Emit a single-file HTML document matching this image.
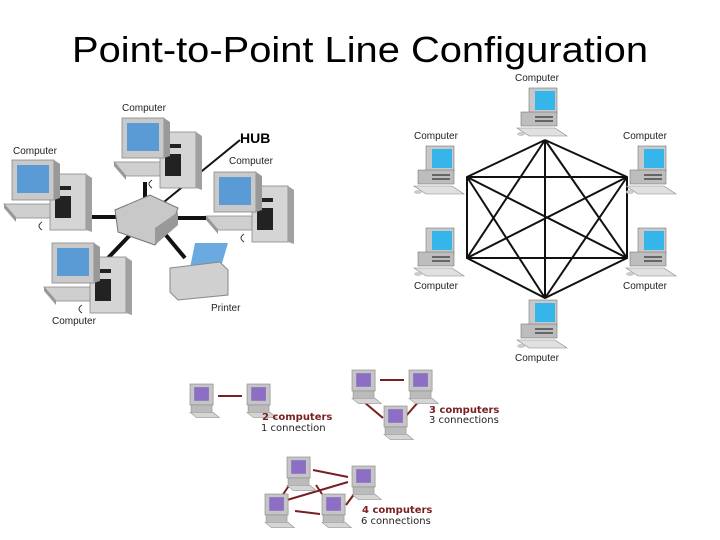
<!DOCTYPE html>
<html><head><style>body{margin:0;background:#fff}svg{display:block}</style></head>
<body>
<svg width="720" height="540" viewBox="0 0 720 540" xmlns="http://www.w3.org/2000/svg" font-family="Liberation Sans, sans-serif">
<defs>
<g id="bc">
 <polygon points="-8,44 40,44 52,58 4,58" fill="#cfcfcf" stroke="#888" stroke-width="0.8"/>
 <polygon points="-8,44 4,58 4,62 -8,48" fill="#999"/>
 <rect x="38" y="14" width="36" height="56" fill="#d5d5d5" stroke="#888" stroke-width="0.8"/>
 <polygon points="74,14 80,18 80,72 74,70" fill="#a0a0a0"/>
 <rect x="43" y="26" width="16" height="4" fill="#222"/>
 <rect x="43" y="36" width="16" height="22" fill="#222"/>
 <rect x="0" y="0" width="42" height="40" fill="#c9c9c9" stroke="#888" stroke-width="0.8"/>
 <rect x="5" y="5" width="32" height="28" fill="#5b9bd5"/>
 <polygon points="42,0 48,4 48,38 42,40" fill="#999"/>
 <path d="M30 62 q-6 4 0 8" stroke="#333" fill="none"/>
</g>
<g id="mc">
 <rect x="12" y="0" width="28" height="26" fill="#c8c8c8" stroke="#777" stroke-width="0.6"/>
 <rect x="18" y="3" width="20" height="19" fill="#35b5ea"/>
 <rect x="4" y="24" width="36" height="14" fill="#bdbdbd" stroke="#777" stroke-width="0.6"/>
 <rect x="18" y="28" width="18" height="2" fill="#666"/>
 <rect x="18" y="32" width="18" height="2" fill="#666"/>
 <polygon points="0,40 38,40 50,48 12,48" fill="#e0e0e0" stroke="#888" stroke-width="0.6"/>
 <ellipse cx="4" cy="46" rx="4" ry="2" fill="#ccc"/>
</g>
<g id="tc">
 <rect x="0" y="0" width="22" height="20" fill="#c5c5c5" stroke="#888" stroke-width="0.6"/>
 <rect x="4" y="3" width="14" height="13" fill="#8c6ec4"/>
 <rect x="1" y="20" width="20" height="7" fill="#bbb" stroke="#888" stroke-width="0.5"/>
 <polygon points="0,27 22,27 28,32 6,32" fill="#d5d5d5" stroke="#999" stroke-width="0.6"/>
</g>
</defs>

<text x="360" y="62" font-size="36" text-anchor="middle" textLength="576" lengthAdjust="spacingAndGlyphs">Point-to-Point Line Configuration</text>

<g stroke="#111" stroke-width="4">
 <line x1="80" y1="217" x2="125" y2="217"/>
 <line x1="145" y1="182" x2="145" y2="205"/>
 <line x1="175" y1="218" x2="215" y2="218"/>
 <line x1="108" y1="258" x2="130" y2="235"/>
 <line x1="165" y1="234" x2="185" y2="258"/>
</g>
<line x1="148" y1="215" x2="240" y2="140" stroke="#111" stroke-width="2"/>
<polygon points="115,210 150,195 178,208 172,225 155,245 118,232" fill="#c8c8c8" stroke="#777"/>
<polygon points="155,228 178,212 178,225 155,245" fill="#999"/>
<use href="#bc" x="122" y="118"/>
<use href="#bc" x="12" y="160"/>
<use href="#bc" x="214" y="172"/>
<use href="#bc" x="52" y="243"/>
<polygon points="195,243 228,243 220,270 190,268" fill="#6aaae0"/>
<polygon points="170,268 220,262 228,270 228,295 178,300 170,292" fill="#d0d0d0" stroke="#888"/>
<g font-size="10" fill="#222">
 <text x="122" y="111">Computer</text>
 <text x="13" y="154">Computer</text>
 <text x="229" y="164">Computer</text>
 <text x="52" y="324">Computer</text>
 <text x="211" y="311">Printer</text>
</g>
<text x="240" y="143" font-size="14" font-weight="bold">HUB</text>

<g stroke="#111" stroke-width="2">
 <polyline points="545,140 627,177 627,258 545,298 467,258 467,177 545,140" fill="none"/>
 <line x1="545" y1="140" x2="545" y2="298"/>
 <line x1="545" y1="140" x2="467" y2="258"/>
 <line x1="545" y1="140" x2="627" y2="258"/>
 <line x1="545" y1="298" x2="467" y2="177"/>
 <line x1="545" y1="298" x2="627" y2="177"/>
 <line x1="467" y1="177" x2="627" y2="177"/>
 <line x1="467" y1="258" x2="627" y2="258"/>
 <line x1="467" y1="177" x2="627" y2="258"/>
 <line x1="467" y1="258" x2="627" y2="177"/>
</g>
<use href="#mc" x="517" y="88"/>
<use href="#mc" x="414" y="146"/>
<use href="#mc" x="626" y="146"/>
<use href="#mc" x="414" y="228"/>
<use href="#mc" x="626" y="228"/>
<use href="#mc" x="517" y="300"/>
<g font-size="10" fill="#222">
 <text x="515" y="81">Computer</text>
 <text x="414" y="139">Computer</text>
 <text x="623" y="139">Computer</text>
 <text x="414" y="289">Computer</text>
 <text x="623" y="289">Computer</text>
 <text x="515" y="361">Computer</text>
</g>

<g stroke="#7a1f1f" stroke-width="2">
 <line x1="218" y1="396" x2="242" y2="396"/>
 <line x1="380" y1="380" x2="404" y2="380"/>
 <line x1="364" y1="402" x2="383" y2="418"/>
 <line x1="406" y1="416" x2="420" y2="400"/>
 <line x1="313" y1="470" x2="348" y2="477"/>
 <line x1="282" y1="496" x2="290" y2="484"/>
 <line x1="316" y1="485" x2="322" y2="494"/>
 <line x1="287" y1="500" x2="348" y2="482"/>
 <line x1="295" y1="511" x2="320" y2="514"/>
 <line x1="346" y1="505" x2="355" y2="493"/>
</g>
<g transform="translate(190,384) scale(1.05)"><use href="#tc"/></g>
<g transform="translate(247,384) scale(1.05)"><use href="#tc"/></g>
<g transform="translate(352,370) scale(1.05)"><use href="#tc"/></g>
<g transform="translate(409,370) scale(1.05)"><use href="#tc"/></g>
<g transform="translate(384,406) scale(1.05)"><use href="#tc"/></g>
<g transform="translate(287,457) scale(1.05)"><use href="#tc"/></g>
<g transform="translate(352,466) scale(1.05)"><use href="#tc"/></g>
<g transform="translate(265,494) scale(1.05)"><use href="#tc"/></g>
<g transform="translate(322,494) scale(1.05)"><use href="#tc"/></g>
<g font-size="10" font-family="DejaVu Sans, sans-serif">
 <text x="262" y="420" fill="#7a1f1f" font-weight="bold">2 computers</text>
 <text x="261" y="431" fill="#222">1 connection</text>
 <text x="429" y="413" fill="#7a1f1f" font-weight="bold">3 computers</text>
 <text x="429" y="423" fill="#222">3 connections</text>
 <text x="362" y="513" fill="#7a1f1f" font-weight="bold">4 computers</text>
 <text x="361" y="524" fill="#222">6 connections</text>
</g>
</svg>
</body></html>
